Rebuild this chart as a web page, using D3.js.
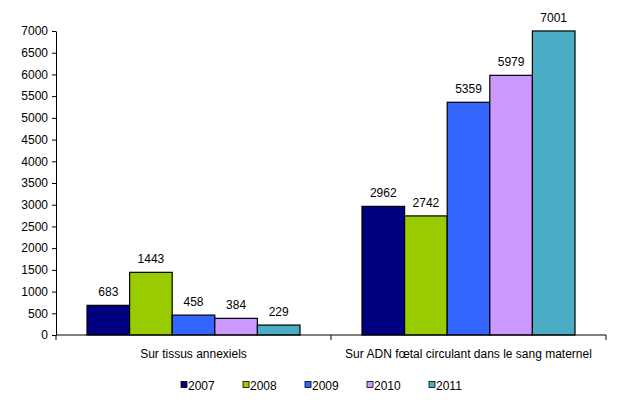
<!DOCTYPE html>
<html>
<head>
<meta charset="utf-8">
<script src="https://cdn.jsdelivr.net/npm/d3@7"></script>
<style>
  body { margin: 0; background: #fff; }
  text { font-family: "Liberation Sans", Arial, sans-serif; font-size: 12px; fill: #000; }
</style>
</head>
<body>
<svg id="chart" width="622" height="405"></svg>
<script>
const categories = ["Sur tissus annexiels", "Sur ADN fœtal circulant dans le sang maternel"];
const years = ["2007", "2008", "2009", "2010", "2011"];
const values2007 = [683, 2962];
const values2008 = [1443, 2742];
const values2009 = [458, 5359];
const values2010 = [384, 5979];
const values2011 = [229, 7001];
const yTicks = [0, 500, 1000, 1500, 2000, 2500, 3000, 3500, 4000, 4500, 5000, 5500, 6000, 6500, 7000];

const COLORS = ["#000080", "#99CC00", "#3366FF", "#CC99FF", "#4BACC6"];
const series = [values2007, values2008, values2009, values2010, values2011];

const svg = d3.select("#chart");
const plotLeft = 56, plotRight = 606, plotTop = 31, plotBottom = 335;

const x0 = d3.scaleBand().domain(categories).range([plotLeft, plotRight]).paddingInner(0).paddingOuter(0);
// bars fill the middle of each category, ~31px gap on each side
const x1 = d3.scaleBand().domain(years).range([31, x0.bandwidth() - 31]);
const y = d3.scaleLinear().domain([0, 7000]).range([plotBottom, plotTop]);

// y axis
const yAxis = svg.append("g")
    .attr("transform", `translate(${plotLeft},0)`)
    .call(d3.axisLeft(y).tickValues(yTicks).tickFormat(d3.format("d"))
        .tickSize(4).tickPadding(4).tickSizeOuter(0));
yAxis.attr("font-size", null).attr("font-family", null);
yAxis.select(".domain").attr("stroke", "#000");
yAxis.selectAll("line").attr("stroke", "#000");

// bars
const rows = [];
categories.forEach((c, ci) => {
    years.forEach((yr, yi) => {
        rows.push({ cat: c, year: yr, value: series[yi][ci], color: COLORS[yi] });
    });
});

svg.selectAll(".bar").data(rows).join("rect")
    .attr("class", "bar")
    .attr("x", d => x0(d.cat) + x1(d.year))
    .attr("y", d => y(d.value))
    .attr("width", x1.bandwidth())
    .attr("height", d => plotBottom - y(d.value))
    .attr("fill", d => d.color)
    .attr("stroke", "#000")
    .attr("stroke-width", 1.2);

svg.selectAll(".val").data(rows).join("text")
    .attr("class", "val")
    .attr("text-anchor", "middle")
    .attr("x", d => x0(d.cat) + x1(d.year) + x1.bandwidth() / 2)
    .attr("y", d => y(d.value) - 9)
    .text(d => d.value);

// x axis
const xAxis = svg.append("g")
    .attr("transform", `translate(0,${plotBottom})`);
xAxis.append("line").attr("x1", plotLeft).attr("x2", plotRight).attr("stroke", "#000");
xAxis.selectAll(".sep").data([plotLeft, x0(categories[1]), plotRight]).join("line")
    .attr("x1", d => d).attr("x2", d => d).attr("y1", 0).attr("y2", 5)
    .attr("stroke", "#000");
xAxis.selectAll(".cat").data(categories).join("text")
    .attr("text-anchor", "middle")
    .attr("x", d => x0(d) + x0.bandwidth() / 2)
    .attr("y", 23)
    .text(d => d);

// legend
const legend = svg.append("g").attr("transform", "translate(181,385)");
const item = legend.selectAll(".leg").data(years).join("g")
    .attr("transform", (d, i) => `translate(${i * 62},0)`);
item.append("rect")
    .attr("x", 0).attr("y", -3.5).attr("width", 6).attr("height", 6)
    .attr("fill", (d, i) => COLORS[i]).attr("stroke", "#000").attr("stroke-width", 0.8);
item.append("text").attr("x", 7).attr("y", 4.5).text(d => d);
</script>
</body>
</html>
